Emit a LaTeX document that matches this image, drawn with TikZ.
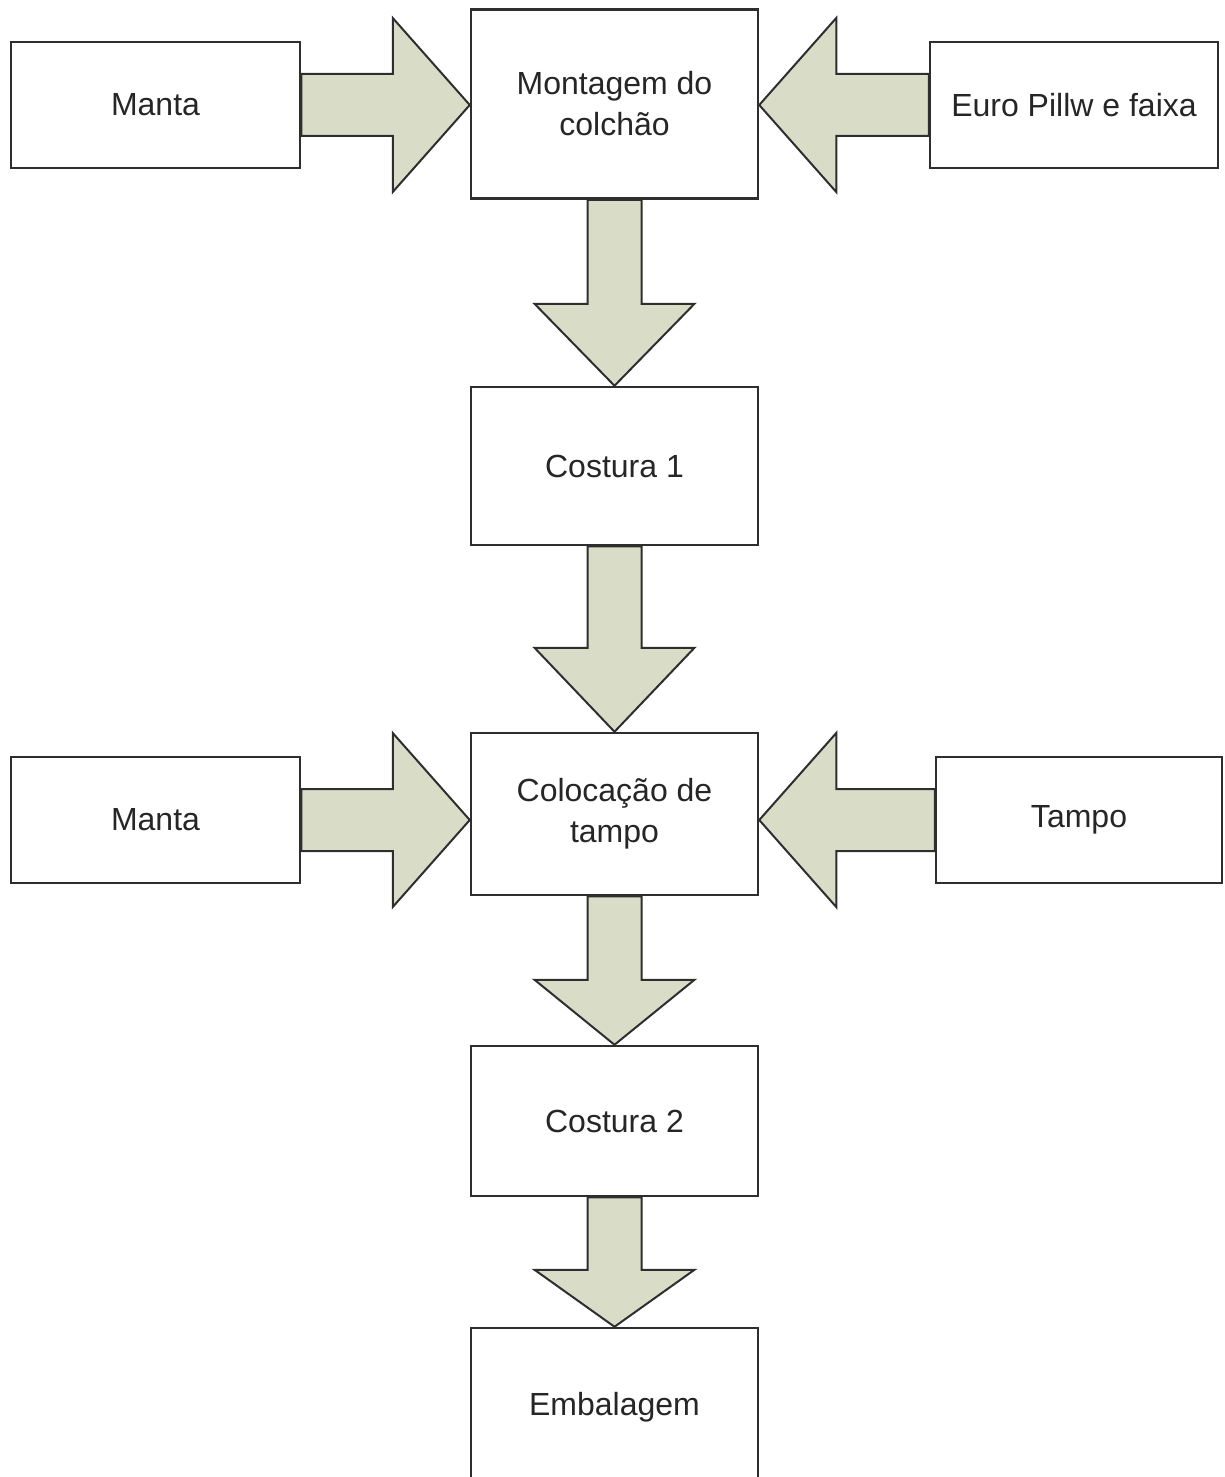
\documentclass[tikz,border=0pt]{standalone}
\usepackage{fontspec}
\setmainfont{Liberation Sans}
\usetikzlibrary{calc}
\definecolor{arrowfill}{HTML}{D9DDC8}
\definecolor{edge}{HTML}{2E2E2E}
\tikzset{
  stage/.style={draw=edge, line width=2.5pt, fill=white, align=center,
    font=\fontsize{32}{41}\selectfont, text=black!85, inner sep=0pt},
  blockarrow/.style={draw=edge, line width=2pt, fill=arrowfill, line join=miter},
}
% horizontal block arrow from anchor #1 to anchor #2; #3 = signed head length
\newcommand{\harrow}[3]{\path[blockarrow] let \p1=(#1), \p2=(#2) in
  (\x1,\y1+31pt) -- ({\x2-(#3)},\y1+31pt) -- ({\x2-(#3)},\y1+87pt) -- (\x2,\y1)
  -- ({\x2-(#3)},\y1-87pt) -- ({\x2-(#3)},\y1-31pt) -- (\x1,\y1-31pt) -- cycle;}
% downward block arrow from anchor #1 to anchor #2; #3 = head length
\newcommand{\varrow}[3]{\path[blockarrow] let \p1=(#1), \p2=(#2) in
  (\x1-27pt,\y1) -- (\x1-27pt,\y2+#3) -- (\x1-80pt,\y2+#3) -- (\x1,\y2)
  -- (\x1+80pt,\y2+#3) -- (\x1+27pt,\y2+#3) -- (\x1+27pt,\y1) -- cycle;}

\begin{document}
\begin{tikzpicture}[x=1pt,y=-1pt]
  \useasboundingbox (0,0) rectangle (1225,1477);
  \clip (0,0) rectangle (1225,1477);

  % process stages
  \node[stage, minimum width=289pt, minimum height=126pt] (manta1) at (155.5,105) {Manta};
  \node[stage, minimum width=287pt, minimum height=189pt] (mont) at (614.5,104) {Montagem do\\colchão};
  \node[stage, minimum width=288pt, minimum height=126pt] (euro) at (1074,105) {Euro Pillw e faixa};
  \node[stage, minimum width=287pt, minimum height=158pt] (cost1) at (614.5,466) {Costura 1};
  \node[stage, minimum width=287pt, minimum height=162pt] (coloc) at (614.5,814) {Colocação de\\tampo};
  \node[stage, minimum width=289pt, minimum height=126pt] (manta2) at (155.5,820) {Manta};
  \node[stage, minimum width=286pt, minimum height=126pt] (tampo) at (1079,820) {Tampo};
  \node[stage, minimum width=287pt, minimum height=150pt] (cost2) at (614.5,1121) {Costura 2};
  \node[stage, minimum width=287pt, minimum height=158pt] (emb) at (614.5,1407) {Embalagem};

  % flows between stages
  \harrow{manta1.east}{mont.west}{77pt}
  \harrow{euro.west}{mont.east}{-77pt}
  \harrow{manta2.east}{coloc.west}{77pt}
  \harrow{tampo.west}{coloc.east}{-77pt}
  \varrow{mont.south}{cost1.north}{82pt}
  \varrow{cost1.south}{coloc.north}{84pt}
  \varrow{coloc.south}{cost2.north}{65pt}
  \varrow{cost2.south}{emb.north}{57pt}
\end{tikzpicture}
\end{document}
